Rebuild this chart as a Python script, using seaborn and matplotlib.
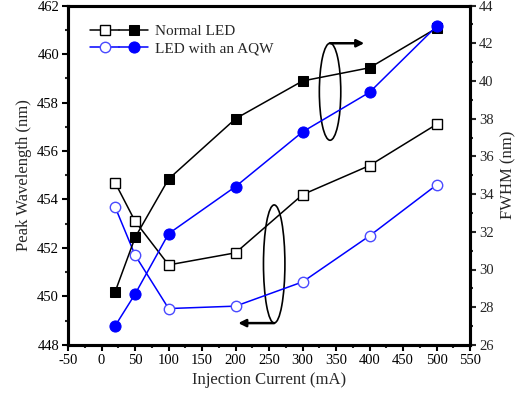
import numpy as np
import pandas as pd
import matplotlib
matplotlib.use("Agg")
import matplotlib.pyplot as plt
import seaborn as sns
from matplotlib.patches import Ellipse
from matplotlib.legend_handler import HandlerTuple
from matplotlib.ticker import MultipleLocator

current = [20, 50, 100, 200, 300, 400, 500]
wl_normal = [454.7, 453.1, 451.3, 451.8, 454.2, 455.4, 457.1]
wl_aqw = [453.7, 451.7, 449.5, 449.6, 450.6, 452.5, 454.6]
fwhm_normal = [28.8, 31.7, 34.8, 38.0, 40.0, 40.7, 42.8]
fwhm_aqw = [27.0, 28.7, 31.9, 34.4, 37.3, 39.4, 42.9]
labels = ["Normal LED", "LED with an AQW"]

sns.set_style("ticks")
plt.rcParams['font.family'] = ['Liberation Serif', 'DejaVu Serif']
plt.rcParams['axes.unicode_minus'] = False

df = pd.DataFrame({
    "current": current,
    "wl_normal": wl_normal, "wl_aqw": wl_aqw,
    "fwhm_normal": fwhm_normal, "fwhm_aqw": fwhm_aqw,
})

fig = plt.figure(figsize=(5.2, 3.96), dpi=100)
ax = fig.add_axes([0.131, 0.129, 0.773, 0.857])
ax2 = ax.twinx()

blue = "#0000ff"
ms = 7
lw = 1.1
sns.lineplot(data=df, x="current", y="wl_normal", ax=ax, color="black", marker="s",
             markersize=ms, markerfacecolor="white", markeredgecolor="black",
             markeredgewidth=1.0, linewidth=lw)
sns.lineplot(data=df, x="current", y="wl_aqw", ax=ax, color=blue, marker="o",
             markersize=ms + 0.5, markerfacecolor="white", markeredgecolor="#4a4aff",
             markeredgewidth=1.0, linewidth=lw)
sns.lineplot(data=df, x="current", y="fwhm_normal", ax=ax2, color="black", marker="s",
             markersize=ms, markerfacecolor="black", markeredgecolor="black",
             linewidth=lw)
sns.lineplot(data=df, x="current", y="fwhm_aqw", ax=ax2, color=blue, marker="o",
             markersize=ms + 1, markerfacecolor=blue, markeredgecolor=blue,
             linewidth=lw)

l_open_n, l_open_a = ax.get_lines()[0], ax.get_lines()[1]
l_fill_n, l_fill_a = ax2.get_lines()[0], ax2.get_lines()[1]

ax.set_xlim(-50, 550)
ax.set_ylim(448, 462)
ax2.set_ylim(26, 44)
ax.set_xticks(np.arange(-50, 551, 50))
ax.xaxis.set_minor_locator(MultipleLocator(25))
ax.set_yticks(np.arange(448, 463, 2))
ax.yaxis.set_minor_locator(MultipleLocator(1))
ax2.set_yticks(np.arange(26, 45, 2))
ax2.yaxis.set_minor_locator(MultipleLocator(1))

fs_tick = 10.5
ax.tick_params(axis="both", which="major", direction="out", length=4.5, width=1.5,
               labelsize=fs_tick, colors="black", pad=2)
ax.tick_params(axis="both", which="minor", direction="out", length=2.5, width=1.5)
ax2.tick_params(axis="y", which="major", direction="out", length=4.5, width=1.5,
                labelsize=fs_tick, pad=2)
ax2.tick_params(axis="y", which="minor", direction="out", length=2.5, width=1.5)
for a in (ax, ax2):
    for s in a.spines.values():
        s.set_linewidth(2.2)
        s.set_visible(True)
        s.set_color("black")

ax.set_xlabel("Injection Current (mA)", fontsize=12, labelpad=4)
ax.set_ylabel("Peak Wavelength (nm)", fontsize=12, labelpad=4)
ax2.set_ylabel("FWHM (nm)", fontsize=12, labelpad=5)

# annotation ellipses and arrows
e1 = Ellipse((341, 39.43), width=32, height=5.15, fill=False, edgecolor="black", lw=1.2)
ax2.add_patch(e1)
ax2.annotate("", xy=(392, 42.0), xytext=(341, 42.0),
             arrowprops=dict(arrowstyle="-|>", color="black", lw=1.8, mutation_scale=11,
                             shrinkA=0, shrinkB=0))
e2 = Ellipse((257.6, 451.34), width=32, height=4.87, fill=False, edgecolor="black", lw=1.2)
ax.add_patch(e2)
ax.annotate("", xy=(204, 448.9), xytext=(257.6, 448.9),
            arrowprops=dict(arrowstyle="-|>", color="black", lw=1.8, mutation_scale=11,
                            shrinkA=0, shrinkB=0))

ax2.legend([(l_open_n, l_fill_n), (l_open_a, l_fill_a)], labels,
           handler_map={tuple: HandlerTuple(ndivide=None, pad=0)},
           loc="upper left", bbox_to_anchor=(0.055, 0.945), frameon=False,
           fontsize=11, handlelength=3.8, handletextpad=0.45, labelspacing=0.25,
           borderpad=0, borderaxespad=0)

fig.savefig("out.png", dpi=100)
